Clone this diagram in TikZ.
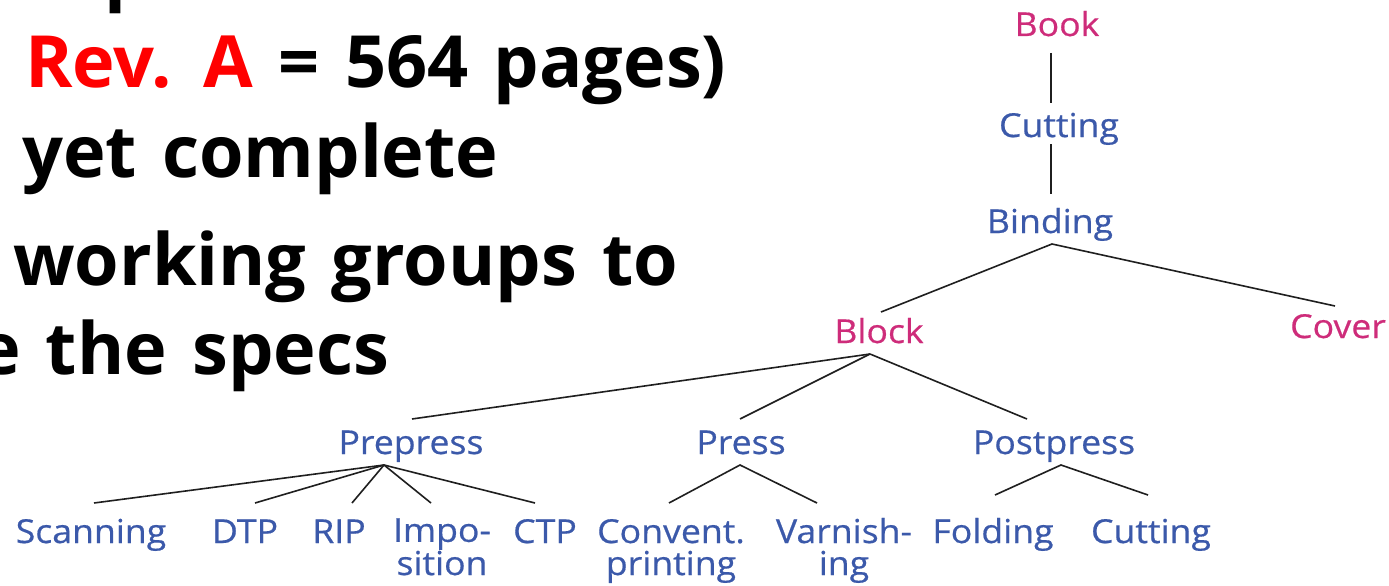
\documentclass[tikz,border=0pt]{standalone}
\usepackage{fontspec}
\setmainfont{Open Sans}
\newfontfamily\treefont[FakeStretch=1.08,FakeBold=0.5]{Open Sans}
\newfontfamily\bigfont[WordSpace=1.35]{Open Sans}
\definecolor{revred}{RGB}{255,0,0}
\definecolor{treemag}{RGB}{206,44,122}
\definecolor{treeblue}{RGB}{59,89,170}
\tikzset{
  bigtext/.style={inner sep=0pt, anchor=base west, font=\bigfont\bfseries\fontsize{72}{80}\selectfont},
  lab/.style={inner sep=0pt, anchor=base, align=center, font=\treefont\fontsize{33}{32}\selectfont},
  magl/.style={lab, text=treemag},
  bluel/.style={lab, text=treeblue},
  edge/.style={line width=1.6pt, draw=black!88}
}
\begin{document}
\begin{tikzpicture}[x=1pt,y=-1pt]
\useasboundingbox (0,0) rectangle (1389,586);
\clip (0,0) rectangle (1389,586);
\fill[white] (0,0) rectangle (1389,586);
% left text
\node[bigtext] (l0) at (104,-3) {p};
\node[bigtext] (l1) at (25,87) {\textcolor{revred}{Rev. A} = 564 pages)};
\node[bigtext] (l2) at (22,177) {yet complete};
\node[bigtext] (l3) at (13,285) {working groups to};
\node[bigtext] (l4) at (-22,374) {e the specs};
% tree labels
\node[magl] (book) at (1057,36) {Book};
\node[bluel] (cut1) at (1059,137) {Cutting};
\node[bluel] (binding) at (1050,233) {Binding};
\node[magl] (block) at (879,343) {Block};
\node[magl] (cover) at (1338,338) {Cover};
\node[bluel] (prepress) at (411,454) {Prepress};
\node[bluel] (press) at (741,454) {Press};
\node[bluel] (postpress) at (1054,454) {Postpress};
\node[bluel] (scan) at (91,543) {Scanning};
\node[bluel] (dtp) at (245,543) {DTP};
\node[bluel] (rip) at (339,543) {RIP};
\node[bluel] (impo) at (442,575) {Impo-\\sition};
\node[bluel] (ctp) at (545,543) {CTP};
\node[bluel] (conv) at (671,575) {Convent.\\printing};
\node[bluel] (varn) at (844,575) {Varnish-\\ing};
\node[bluel] (fold) at (993,543) {Folding};
\node[bluel] (cut2) at (1151,543) {Cutting};
% connector points
\coordinate (bookS) at (1051,53);
\coordinate (cut1N) at (1051,103);
\coordinate (cut1S) at (1051,144);
\coordinate (bindN) at (1051,194);
\coordinate (bindS) at (1052,244);
\coordinate (blockN) at (881,312);
\coordinate (coverN) at (1335,306);
\coordinate (blockS) at (870,354);
\coordinate (preN) at (412,419);
\coordinate (pressN) at (740,419);
\coordinate (postN) at (1027,419);
\coordinate (preS) at (384,465);
\coordinate (scanN) at (94,503);
\coordinate (dtpN) at (255,503);
\coordinate (ripN) at (352,503);
\coordinate (impoN) at (431,503);
\coordinate (ctpN) at (535,503);
\coordinate (pressS) at (740,465);
\coordinate (convN) at (669,503);
\coordinate (varnN) at (817,503);
\coordinate (postS) at (1061,465);
\coordinate (foldN) at (995,495);
\coordinate (cut2N) at (1148,495);
% connectors
\draw[edge] (bookS) -- (cut1N);
\draw[edge] (cut1S) -- (bindN);
\draw[edge] (blockN) -- (bindS) -- (coverN);
\draw[edge] (blockS) -- (preN);
\draw[edge] (blockS) -- (pressN);
\draw[edge] (blockS) -- (postN);
\foreach \t in {scanN,dtpN,ripN,impoN,ctpN} \draw[edge] (preS) -- (\t);
\draw[edge] (convN) -- (pressS) -- (varnN);
\draw[edge] (foldN) -- (postS) -- (cut2N);
\end{tikzpicture}
\end{document}
